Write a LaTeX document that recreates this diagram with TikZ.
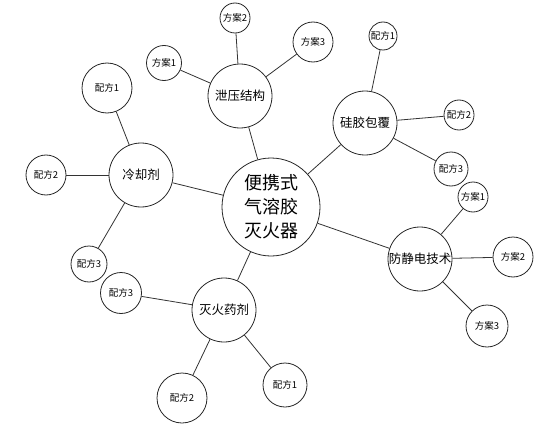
\documentclass[tikz,border=0pt]{standalone}
\usepackage{fontspec}
\newfontfamily\cjk{Noto Sans CJK SC}
\begin{document}
\begin{tikzpicture}[x=1pt,y=-1pt,
  bub/.style={circle,draw=black!85,line width=0.8pt,inner sep=0pt,align=center,font=\cjk},
  big/.style={bub,minimum size=98pt,font=\cjk\fontsize{18}{24}\selectfont},
  mid/.style={bub,minimum size=64pt,font=\cjk\fontsize{12.5}{15}\selectfont},
  leaf/.style={bub,font=\cjk\fontsize{9.5}{11}\selectfont},
  link/.style={draw=black!80,line width=0.8pt}]
\useasboundingbox (0,0) rectangle (557,428);
\node[big] (c) at (271,207) {便携式\\气溶胶\\灭火器};
\node[mid] (xy) at (240,96) {泄压结构};
\node[mid] (gj) at (365,123) {硅胶包覆};
\node[mid] (lq) at (141,175) {冷却剂};
\node[mid] (fj) at (420,259) {防静电技术};
\node[mid] (mh) at (224,310) {灭火药剂};
% 泄压结构
\node[leaf,minimum size=30pt] (xy2) at (235,18) {方案2};
\node[leaf,minimum size=40pt] (xy3) at (313,42) {方案3};
\node[leaf,minimum size=35pt] (xy1) at (164,63) {方案1};
% 硅胶包覆
\node[leaf,minimum size=28pt] (gj1) at (383,36) {配方1};
\node[leaf,minimum size=30pt] (gj2) at (459,115) {配方2};
\node[leaf,minimum size=34pt] (gj3) at (451,169) {配方3};
% 冷却剂
\node[leaf,minimum size=50pt] (lq1) at (107,88) {配方1};
\node[leaf,minimum size=40pt] (lq2) at (46,175) {配方2};
\node[leaf,minimum size=36pt] (lq3) at (89,264) {配方3};
% 防静电技术
\node[leaf,minimum size=30pt] (fj1) at (473,197) {方案1};
\node[leaf,minimum size=40pt] (fj2) at (513,257) {方案2};
\node[leaf,minimum size=42pt] (fj3) at (487,326) {方案3};
% 灭火药剂
\node[leaf,minimum size=41pt] (mh3) at (121,293) {配方3};
\node[leaf,minimum size=50pt] (mh2) at (182,398) {配方2};
\node[leaf,minimum size=44pt] (mh1) at (285,385) {配方1};
% links
\foreach \a in {xy,gj,lq,fj,mh} \draw[link] (c) -- (\a);
\foreach \b in {xy1,xy2,xy3} \draw[link] (xy) -- (\b);
\foreach \b in {gj1,gj2,gj3} \draw[link] (gj) -- (\b);
\foreach \b in {lq1,lq2,lq3} \draw[link] (lq) -- (\b);
\foreach \b in {fj1,fj2,fj3} \draw[link] (fj) -- (\b);
\foreach \b in {mh1,mh2,mh3} \draw[link] (mh) -- (\b);
\end{tikzpicture}
\end{document}
